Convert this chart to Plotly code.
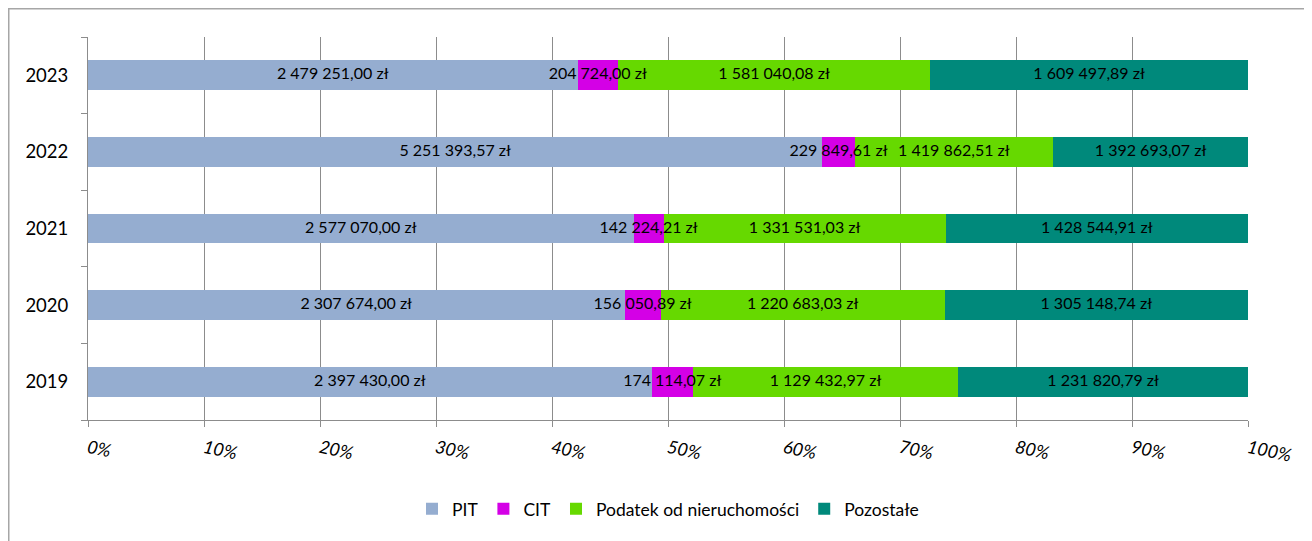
import plotly.graph_objects as go

years = ["2019", "2020", "2021", "2022", "2023"]
pit = [2397430.00, 2307674.00, 2577070.00, 5251393.57, 2479251.00]
cit = [174114.07, 156050.89, 142224.21, 229849.61, 204724.00]
nier = [1129432.97, 1220683.03, 1331531.03, 1419862.51, 1581040.08]
poz = [1231820.79, 1305148.74, 1428544.91, 1392693.07, 1609497.89]

series = [
    ("PIT", pit, "#95ADD0"),
    ("CIT", cit, "#D400E6"),
    ("Podatek od nieruchomości", nier, "#66D900"),
    ("Pozostałe", poz, "#00897B"),
]

FONT = "Lato"


def fmt(v):
    s = f"{v:,.2f}"
    s = s.replace(",", " ").replace(".", ",")
    return s + " zł"


totals = [sum(s[1][i] for s in series) for i in range(len(years))]

fig = go.Figure()
for name, vals, col in series:
    pct = [v / t * 100 for v, t in zip(vals, totals)]
    fig.add_trace(go.Bar(
        y=years, x=pct, name=name, orientation="h",
        marker=dict(color=col, line=dict(width=0)),
        hoverinfo="skip",
    ))

# data labels centred in each segment, drawn on top of all bars
lx, ly, lt = [], [], []
for i, y in enumerate(years):
    cum = 0.0
    for name, vals, col in series:
        p = vals[i] / totals[i] * 100
        lx.append(cum + p / 2)
        ly.append(y)
        lt.append(fmt(vals[i]))
        cum += p
fig.add_trace(go.Scatter(
    x=lx, y=ly, text=lt, mode="text", showlegend=False,
    textposition="middle center",
    textfont=dict(family=FONT, size=16, color="#000000"),
    hoverinfo="skip", cliponaxis=False,
))

W, H = 1312, 541
L, T, PW, PH = 80, 29, 1160, 383
R = W - L - PW
B = H - T - PH

fig.update_layout(
    barmode="stack",
    bargap=0.61,
    width=W, height=H,
    margin=dict(l=L, r=R, t=T, b=B, autoexpand=False),
    paper_bgcolor="white",
    plot_bgcolor="white",
    font=dict(family=FONT, color="#000000"),
    legend=dict(
        orientation="h", x=0.5, xanchor="center", y=-0.232, yanchor="middle",
        font=dict(family=FONT, size=17.5, color="#000000"),
        traceorder="normal",
    ),
    shapes=[dict(
        type="rect", xref="paper", yref="paper",
        x0=(0.75 - L) / PW, x1=1.3, y0=-0.6, y1=1 + (T - 0.75) / PH,
        line=dict(color="#A6A6A6", width=1.5), fillcolor="rgba(0,0,0,0)",
        layer="below",
    )],
)

fig.update_xaxes(
    range=[0, 100], dtick=10, ticksuffix="%",
    showgrid=True, gridcolor="#8C8C8C", gridwidth=1,
    showline=True, linecolor="#8C8C8C", linewidth=1,
    ticks="outside", ticklen=6, tickcolor="#8C8C8C",
    tickangle=12,
    tickfont=dict(family=FONT, size=18, style="italic", color="#000000"),
    ticklabelstandoff=4,
    zeroline=False,
)
fig.update_yaxes(
    type="category", categoryorder="array", categoryarray=years,
    showline=True, linecolor="#8C8C8C", linewidth=1,
    ticks="outside", ticklen=6, tickcolor="#8C8C8C", tickson="boundaries",
    tickfont=dict(family=FONT, size=18.5, color="#000000"),
    ticklabelstandoff=15,
    showgrid=False,
)

fig.write_html("out.html")
